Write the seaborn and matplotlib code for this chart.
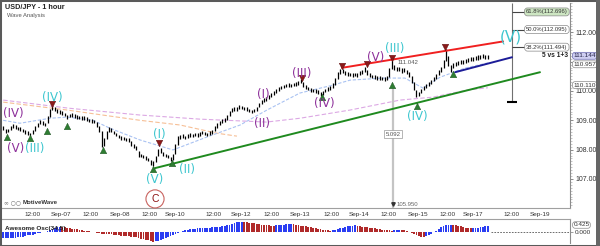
import numpy as np
import pandas as pd
import matplotlib
matplotlib.use("Agg")
import matplotlib.pyplot as plt
import matplotlib.transforms as mtrans
from matplotlib.patches import Rectangle
import seaborn as sns

sns.set_style("white")
plt.rcParams['font.family'] = ['Liberation Sans', 'DejaVu Sans']

# ---------------- data ----------------
lows = [108.66,108.56,108.60,108.67,108.73,108.72,108.66,108.64,108.60,108.54,
        108.49,108.47,108.55,108.65,108.76,108.87,108.84,108.80,108.92,109.12,
        109.34,109.31,109.26,109.22,109.19,109.14,109.05,109.10,109.12,109.08,
        109.06,109.04,109.02,109.01,108.98,108.94,108.92,108.90,108.78,108.60,
        108.09,108.12,108.36,108.60,108.60,108.52,108.46,108.38,108.34,108.32,
        108.28,108.26,108.14,108.05,107.98,107.76,107.74,107.70,107.66,107.60,
        107.48,107.44,107.58,107.80,107.88,107.78,107.74,107.70,107.60,107.66,
        107.84,108.15,108.36,108.40,108.36,108.40,108.44,108.42,108.46,108.44,
        108.48,108.52,108.49,108.46,108.50,108.54,108.64,108.74,108.83,108.90,
        108.93,109.02,109.15,109.27,109.33,109.32,109.39,109.38,109.34,109.32,
        109.27,109.24,109.28,109.33,109.44,109.55,109.61,109.65,109.73,109.79,
        109.85,109.93,110.01,110.06,110.09,110.12,110.14,110.13,110.16,110.18,
        110.21,110.26,110.15,110.06,110.02,109.98,109.96,109.94,109.90,109.82,
        109.88,109.95,110.00,110.04,110.10,110.22,110.42,110.58,110.61,110.56,
        110.52,110.51,110.49,110.50,110.48,110.53,110.59,110.64,110.55,110.48,
        110.44,110.41,110.39,110.38,110.36,110.35,110.37,110.48,110.76,110.72,
        110.69,110.67,110.63,110.64,110.58,110.46,110.28,110.02,109.79,109.82,
        109.92,110.03,110.11,110.17,110.25,110.33,110.42,110.54,110.66,110.80,
        111.02,110.85,110.65,110.78,110.85,110.88,110.91,110.93,110.96,110.98,
        111.01,111.03,111.05,111.07,111.10,111.11,111.09,111.08]
highs = [108.80,108.70,108.72,108.80,108.86,108.84,108.78,108.76,108.72,108.66,
         108.62,108.58,108.68,108.80,108.92,109.00,108.96,108.92,109.14,109.38,
         109.52,109.45,109.38,109.34,109.31,109.26,109.18,109.22,109.24,109.20,
         109.18,109.16,109.14,109.13,109.10,109.06,109.04,109.02,108.95,108.82,
         108.62,108.40,108.62,108.78,108.73,108.65,108.58,108.50,108.46,108.44,
         108.40,108.38,108.30,108.20,108.12,107.96,107.86,107.82,107.78,107.72,
         107.64,107.60,107.80,108.02,108.05,107.92,107.86,107.82,107.75,107.84,
         108.18,108.46,108.50,108.52,108.48,108.52,108.56,108.54,108.58,108.56,
         108.60,108.64,108.61,108.58,108.62,108.68,108.80,108.90,108.97,109.03,
         109.08,109.18,109.32,109.42,109.47,109.44,109.52,109.50,109.46,109.44,
         109.39,109.36,109.40,109.47,109.60,109.69,109.75,109.79,109.87,109.93,
         109.99,110.07,110.15,110.18,110.21,110.24,110.26,110.25,110.28,110.30,
         110.35,110.40,110.30,110.19,110.14,110.10,110.08,110.06,110.02,109.96,
         110.01,110.08,110.12,110.16,110.26,110.45,110.64,110.74,110.74,110.68,
         110.64,110.63,110.61,110.62,110.60,110.67,110.73,110.81,110.70,110.61,
         110.56,110.53,110.51,110.50,110.48,110.47,110.52,110.80,111.04,110.90,
         110.83,110.81,110.77,110.78,110.73,110.64,110.50,110.30,110.05,109.98,
         110.07,110.17,110.25,110.31,110.39,110.47,110.57,110.70,110.82,111.06,
         111.42,111.20,110.90,110.94,110.99,111.02,111.05,111.07,111.10,111.12,
         111.15,111.17,111.19,111.21,111.24,111.25,111.23,111.22]
ao = [-0.45,-0.44,-0.43,-0.42,-0.41,-0.40,-0.39,-0.37,-0.33,-0.29,
      -0.25,-0.22,-0.19,-0.14,-0.10,-0.06,-0.03,0.00,0.06,0.14,
      0.22,0.30,0.36,0.38,0.36,0.33,0.30,0.27,0.24,0.21,
      0.18,0.15,0.12,0.09,0.07,0.05,0.02,-0.02,-0.06,-0.09,
      -0.12,-0.13,-0.14,-0.15,-0.17,-0.19,-0.21,-0.23,-0.26,-0.28,
      -0.30,-0.32,-0.34,-0.36,-0.39,-0.43,-0.47,-0.51,-0.56,-0.61,
      -0.65,-0.69,-0.66,-0.62,-0.57,-0.50,-0.43,-0.36,-0.28,-0.21,
      -0.14,-0.07,0.00,0.06,0.12,0.16,0.19,0.21,0.23,0.25,
      0.26,0.27,0.29,0.30,0.31,0.33,0.34,0.36,0.38,0.41,
      0.44,0.48,0.53,0.58,0.63,0.68,0.73,0.74,0.73,0.70,
      0.67,0.64,0.61,0.58,0.55,0.52,0.50,0.48,0.47,0.46,
      0.45,0.47,0.49,0.51,0.53,0.54,0.55,0.56,0.54,0.52,
      0.49,0.46,0.43,0.40,0.37,0.34,0.31,0.27,0.24,0.21,
      0.17,0.14,0.12,0.10,0.11,0.15,0.20,0.26,0.31,0.36,
      0.40,0.44,0.46,0.47,0.45,0.42,0.39,0.36,0.33,0.30,
      0.27,0.25,0.22,0.20,0.17,0.15,0.13,0.11,0.10,0.12,
      0.14,0.15,0.13,0.11,0.08,0.03,-0.04,-0.12,-0.20,-0.28,
      -0.34,-0.36,-0.30,-0.22,-0.12,-0.02,0.10,0.22,0.33,0.42,
      0.47,0.50,0.52,0.51,0.48,0.44,0.40,0.35,0.31,0.27,
      0.25,0.26,0.29,0.32,0.35,0.38,0.40,0.42]

# moving averages (sampled points)
ma_fast_x = [0, 6.8, 19, 26, 36.5, 43.4, 55.6, 69, 82.8, 96.3, 107.2, 120.6, 134, 141, 154.4, 163.3, 170.6, 177.6, 187.7, 197]
ma_fast_y = [109.00, 108.90, 109.07, 109.11, 109.00, 108.73, 108.33, 107.99, 108.43, 108.84, 109.35, 109.93, 110.20, 110.37, 110.44, 110.44, 110.10, 110.47, 110.78, 110.957]
ma_slow_x = [0, 27, 55.6, 80, 107, 120.6, 141, 161.3, 174.7, 188.5, 197]
ma_slow_y = [109.69, 109.41, 109.18, 109.04, 108.94, 109.07, 109.35, 109.69, 109.79, 110.03, 110.11]
ma_mid_x = [0, 26, 55.6, 71.9, 86.9, 95]
ma_mid_y = [109.62, 109.35, 109.00, 108.84, 108.56, 108.46]

# trend lines
green_x, green_y = [61.7, 218.2], [107.37, 110.64]
red_x, red_y = [137.7, 203.2], [110.79, 111.69]
blue_x, blue_y = [183.7, 206.8], [110.64, 111.15]

# swing markers
up_x = [1.5, 10.9, 17.8, 26, 40.6, 60.9, 68.6, 129.6, 158, 168.2, 182.8]
up_y = [108.43, 108.39, 108.63, 108.80, 107.99, 107.34, 107.54, 109.79, 110.20, 109.48, 110.57]
dn_x = [19.8, 63.3, 121.5, 137.7, 147.9, 158, 179.6]
dn_y = [109.55, 108.22, 110.44, 110.84, 110.91, 111.12, 111.49]

# wave labels
cyan_lbl = [("(IV)", 19.8, 109.79), ("(III)", 12.6, 108.05), ("(I)", 63.3, 108.50),
            ("(V)", 61.7, 106.97), ("(II)", 74.7, 107.31), ("(III)", 159.3, 111.46),
            ("(IV)", 168.2, 109.14)]
purple_lbl = [("(IV)", 3.9, 109.24), ("(V)", 5.0, 108.05), ("(I)", 105.6, 109.89),
              ("(II)", 105.2, 108.90), ("(III)", 121.5, 110.60), ("(IV)", 130.4, 109.59),
              ("(V)", 151.5, 111.15)]

fib_levels = [112.696, 112.095, 111.494]
fib_labels = ["61.8%(112.696)", "50.0%(112.095)", "38.2%(111.494)"]

tick_pos = [12, 23.5, 35.5, 47.5, 59.5, 70, 85.5, 96.5, 109, 120.5, 133.5, 144.5, 156.5, 168.5, 180.5, 191, 206.5, 218]
tick_lbl = ["12:00", "Sep-07", "12:00", "Sep-08", "12:00", "Sep-10", "12:00", "Sep-12", "12:00",
            "Sep-13", "12:00", "Sep-14", "12:00", "Sep-15", "12:00", "Sep-17", "12:00", "Sep-19"]

# ---------------- figure ----------------
W, H = 600, 246
fig = plt.figure(figsize=(6.0, 2.46), dpi=100)
fig.patch.set_facecolor("white")

def fx(px):
    return px / W

def fy(py):
    return 1 - py / H

ax = fig.add_axes([fx(2), fy(208), fx(568), 205 / H])
ax2 = fig.add_axes([fx(2), fy(243), fx(568), 24 / H])

bars = pd.DataFrame({"i": np.arange(len(lows)), "low": lows, "high": highs, "ao": ao})

XL = (-0.5, 230.4)
ax.set_xlim(*XL)
ax.set_ylim(106.01, 112.99)

# moving averages
sns.lineplot(x=ma_slow_x, y=ma_slow_y, ax=ax, color="#dca8e4", lw=0.8, linestyle=(0, (4, 2)), zorder=1)
sns.lineplot(x=ma_mid_x, y=ma_mid_y, ax=ax, color="#f6bf96", lw=0.8, linestyle=(0, (4, 2)), zorder=1)
sns.lineplot(x=ma_fast_x, y=ma_fast_y, ax=ax, color="#a9c2f2", lw=0.8, linestyle=(0, (3, 1.5)), zorder=1)

# grey measure line
ax.vlines(158.5, 106.0, 110.18, color="#c4c4c4", lw=1.6, zorder=1)

# price bars
ax.vlines(bars["i"], bars["low"], bars["high"], color="black", lw=0.9, zorder=3)

# trend lines
sns.lineplot(x=green_x, y=green_y, ax=ax, color="#1f8a1f", lw=1.4, zorder=4)
sns.lineplot(x=red_x, y=red_y, ax=ax, color="#f02020", lw=1.4, zorder=4)
sns.lineplot(x=blue_x, y=blue_y, ax=ax, color="#1c1c98", lw=1.4, zorder=4)

# swing markers
sns.scatterplot(x=up_x, y=up_y, ax=ax, marker="^", s=22, color="#2e7d32", edgecolor="#1b4d1e", linewidth=0.3, zorder=5)
sns.scatterplot(x=dn_x, y=dn_y, ax=ax, marker="v", s=22, color="#8b1a1a", edgecolor="#5a0d0d", linewidth=0.3, zorder=5)

# wave labels
for t, x, y in cyan_lbl:
    ax.text(x, y, t, color="#3cc6cf", fontsize=8.5, ha="center", va="center", family="DejaVu Sans", zorder=6)
for t, x, y in purple_lbl:
    ax.text(x, y, t, color="#8d2f9a", fontsize=8.5, ha="center", va="center", family="DejaVu Sans", zorder=6)
ax.text(206.4, 111.83, "(V)", color="#3cc6cf", fontsize=11, ha="center", va="center", family="DejaVu Sans", zorder=6)

# C circle
ax.scatter([61.7], [106.32], s=170, facecolors="none", edgecolors="#c8625e", linewidths=0.8, zorder=6, clip_on=False)
ax.text(61.7, 106.32, "C", color="#8b1010", fontsize=7.5, ha="center", va="center", zorder=7)

# time projection line + fib levels
ax.vlines(206.8, 109.62, 112.99, color="#707070", lw=0.8, zorder=2)
ax.plot([206.8], [109.62], marker="_", markersize=7, mew=1.5, color="black", zorder=5)
for lv, lb in zip(fib_levels, fib_labels):
    ax.hlines(lv, 206.8, 213.5, color="#444444", lw=0.8, zorder=2)
    fc = "#cde6c2" if lb.startswith("61.8") else "white"
    ax.text(221.0, lv, lb, fontsize=4.2, ha="center", va="center", color="#333333", zorder=6,
            bbox=dict(boxstyle="round,pad=0.25,rounding_size=0.5", fc=fc, ec="#888888", lw=0.5))
ax.text(224.2, 111.20, "5 vs 1+3", fontsize=4.8, fontweight="bold", ha="center", va="center", color="#222222")

# measure annotations
ax.text(160.2, 110.97, "111.042", fontsize=4.3, color="#555555", ha="left", va="center")
ax.text(158.5, 108.53, "5.092", fontsize=4.3, color="#555555", ha="center", va="center", zorder=6,
        bbox=dict(boxstyle="square,pad=0.25", fc="white", ec="#999999", lw=0.5))
ax.plot([158.5], [106.14], marker="v", markersize=2.5, color="#333333", zorder=6)
ax.text(160.0, 106.14, "105.950", fontsize=4.3, color="#666666", ha="left", va="center")

# axes styling (main)
for s in ["top", "left"]:
    ax.spines[s].set_visible(False)
ax.spines["right"].set_color("#8c8c8c")
ax.spines["bottom"].set_color("#a0a0a0")
ax.spines["right"].set_linewidth(0.8)
ax.spines["bottom"].set_linewidth(0.8)
ax.yaxis.tick_right()
ax.set_yticks([107, 108, 109, 110, 111, 112])
ax.set_yticklabels(["107.000", "108.000", "109.000", "110.000", "", "112.000"])
ax.set_yticks(np.arange(106.1, 113.0, 0.1), minor=True)
ax.tick_params(axis="y", which="major", direction="out", length=2.5, width=0.6, colors="#777777",
               labelsize=5, labelcolor="#333333", pad=1.5)
ax.tick_params(axis="y", which="minor", direction="out", length=1.2, width=0.4, colors="#999999")
ax.set_xticks(tick_pos)
ax.set_xticklabels(tick_lbl)
ax.tick_params(axis="x", direction="out", length=2, width=0.5, colors="#888888",
               labelsize=4.6, labelcolor="#333333", pad=1.2)
ax.set_xlabel("")
ax.set_ylabel("")

# right-axis value boxes
tr = mtrans.blended_transform_factory(ax.transAxes, ax.transData)
ax.text(1.006, 110.91, "110.957", transform=tr, fontsize=4.6, ha="left", va="center", color="#333333",
        clip_on=False, zorder=7, bbox=dict(boxstyle="round,pad=0.15,rounding_size=0.4", fc="white", ec="#8a8a8a", lw=0.5))
ax.text(1.006, 111.20, "111.144", transform=tr, fontsize=4.6, ha="left", va="center", color="#222244",
        clip_on=False, zorder=8, bbox=dict(boxstyle="round,pad=0.15,rounding_size=0.4", fc="#cfcff2", ec="#6c6cb0", lw=0.5))
ax.text(1.006, 110.20, "110.110", transform=tr, fontsize=4.6, ha="left", va="center", color="#333333",
        clip_on=False, zorder=7, bbox=dict(boxstyle="round,pad=0.15,rounding_size=0.4", fc="white", ec="#8a8a8a", lw=0.5))

# ---------------- awesome oscillator ----------------
ax2.set_xlim(*XL)
ax2.set_ylim(-0.79, 0.93)
prev = [ao[0]] + ao[:-1]
cols = ["#2b3ef2" if a >= p else "#b02a2a" for a, p in zip(ao, prev)]
ax2.bar(bars["i"], bars["ao"], width=0.75, color=cols, linewidth=0, zorder=2)
ax2.plot([198.3, XL[1]], [0, 0], color="#555555", lw=0.6, linestyle=(0, (2, 1.5)), zorder=1)
for s in ["left", "bottom"]:
    ax2.spines[s].set_visible(False)
ax2.spines["top"].set_color("#a0a0a0")
ax2.spines["top"].set_linewidth(0.8)
ax2.spines["right"].set_color("#8c8c8c")
ax2.spines["right"].set_linewidth(0.8)
ax2.set_xticks([])
ax2.yaxis.tick_right()
ax2.set_yticks([0])
ax2.set_yticklabels(["0.000"])
ax2.tick_params(axis="y", direction="out", length=2, width=0.5, colors="#777777",
                labelsize=4.6, labelcolor="#333333", pad=1.5)
tr2 = mtrans.blended_transform_factory(ax2.transAxes, ax2.transData)
ax2.text(1.006, 0.50, "0.425", transform=tr2, fontsize=4.6, ha="left", va="center", color="#333333",
         clip_on=False, zorder=7, bbox=dict(boxstyle="round,pad=0.12,rounding_size=0.4", fc="white", ec="#8a8a8a", lw=0.5))
ax2.text(0.006, 0.62, "Awesome Osc(34,5)", transform=ax2.transAxes, fontsize=4.6, fontweight="bold",
         ha="left", va="center", color="#222222", zorder=8)

# ---------------- titles & frame ----------------
fig.text(fx(5), fy(7.5), "USD/JPY - 1 hour", fontsize=5.2, fontweight="bold", ha="left", va="center", color="#222222")
fig.text(fx(7), fy(16), "Wave Analysis", fontsize=4.2, ha="left", va="center", color="#555555")
fig.text(fx(4), fy(203), "\u221e \u25cb\u25cb", fontsize=4.2, ha="left", va="center", color="#777777", family="DejaVu Sans")
fig.text(fx(23), fy(203), "MotiveWave", fontsize=4.4, fontweight="bold", ha="left", va="center", color="#333333")

fig.add_artist(Rectangle((0, 0), 1, 1, transform=fig.transFigure, fill=False, edgecolor="#5a5a5a", lw=2.2))
fig.add_artist(Rectangle((fx(596), 0), fx(4), 1, transform=fig.transFigure, facecolor="#666666", edgecolor="none"))

fig.savefig("out.png", dpi=100, facecolor="white")
